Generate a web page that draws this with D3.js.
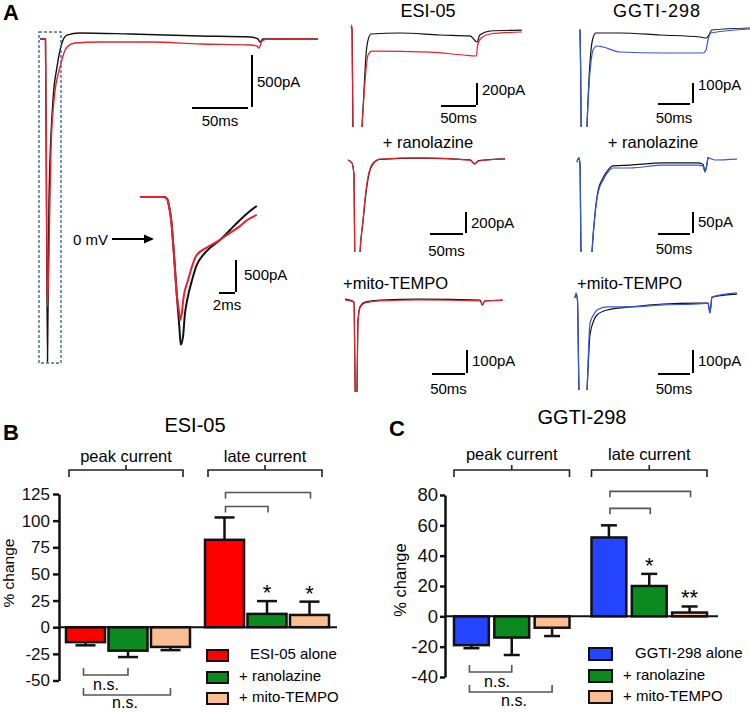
<!DOCTYPE html>
<html>
<head>
<meta charset="utf-8">
<script src="https://cdn.jsdelivr.net/npm/d3@7"></script>
<style>
body { margin: 0; background: #fff; }
svg { display: block; font-family: "Liberation Sans", Arial, sans-serif; }
</style>
</head>
<body>
<div id="chart"></div>
<script>
// ---- traces as [time ms, current pA] ----
const wholeBlack = [[0,0],[4.9,0],[5.8,-1548],[6.7,-3106],[8,-1548],[11.6,-587],[15.2,-269],[19.6,-38],[24.1,38],[35.7,58],[80.4,48],[142.9,29],[187.5,19],[194.6,0],[196.4,-29],[199,0],[218.8,0],[248.2,0]];
const wholeRed = [[0,0],[4.9,0],[5.8,-1548],[6.7,-2577],[8.9,-1548],[9.8,-1067],[12.5,-587],[17.9,-269],[24.1,-77],[31.3,-38],[53.6,-29],[98.2,-29],[142.9,-48],[187.5,-58],[193.8,-67],[195.5,-87],[198.2,-19],[202.7,0],[248.2,0]];

const zoomBlack = [[0,0],[3,0],[3.4,-30],[3.6,-125],[3.9,-360],[4.25,-905],[4.6,-1530],[4.9,-2000],[5.1,-2310],[5.4,-2155],[5.6,-1845],[5.9,-1610],[6.5,-1300],[7.1,-1060],[7.9,-905],[8.75,-795],[10,-670],[11.25,-515],[12.5,-360],[13.75,-220],[14.6,-140]];
const zoomRed = [[0,0],[3,0],[3.4,-30],[3.6,-125],[3.9,-360],[4.25,-905],[4.6,-1530],[4.9,-1810],[5.05,-1920],[5.25,-1800],[5.4,-1610],[6,-1300],[7.1,-905],[8.5,-780],[10,-670],[11.25,-560],[12.5,-455],[13.4,-360],[14.6,-280]];

const esiBlack = [[0,55],[1.4,36],[2.9,-927],[8.6,-1518],[15.7,-855],[18.6,-518],[21.4,-200],[24.3,-64],[28.6,-9],[70,0],[127,-18],[170,-27],[180,-82],[184,-18],[199,18],[244,27]];
const esiRed = [[0,73],[1.4,55],[2.9,-927],[8.6,-1518],[15.7,-855],[18.6,-564],[21.4,-336],[24.3,-200],[30,-164],[113,-173],[160,-200],[179,-209],[181,-109],[186,-45],[199,-9],[244,9]];

const esiRanoBlack = [[0,-10],[6,-38],[9.1,-152],[10.6,-1152],[15.2,-1342],[18.2,-885],[22.7,-600],[27.3,-320],[31.8,-143],[37.9,-48],[48.5,-5],[109,8],[185,-8],[192,-45],[198,-15],[238,2]];
const esiRanoRed = [[0,-10],[6,-38],[9.1,-152],[10.6,-1152],[15.2,-1342],[18.2,-885],[22.7,-581],[27.3,-295],[31.8,-124],[37.9,-38],[48.5,0],[109,10],[185,-10],[192,-48],[198,-19],[238,0]];

const esiMitoBlack = [[0,4],[7.6,0],[13.6,-9],[15.2,-348],[16.7,-565],[18.2,-400],[18.9,-217],[19.7,-87],[22.7,-30],[30.3,-9],[53,0],[114,4],[205,0],[208,-22],[212,-4],[239,0]];
const esiMitoRed = [[0,0],[7.6,-4],[13.6,-9],[15.2,-348],[16.7,-565],[18.2,-400],[18.9,-230],[19.7,-100],[22.7,-35],[30.3,-13],[53,-4],[114,0],[205,-4],[208,-22],[212,-4],[239,-2]];

const ggtiBlack = [[0,15],[0.8,-135],[3.1,-835],[7.8,-835],[10.9,-470],[14,-235],[17.2,-85],[20.3,-25],[25,0],[62.5,0],[125,-10],[187.5,-20],[197,-25],[201.6,-10],[206,15],[265.6,25]];
const ggtiBlue = [[0,20],[0.8,-135],[3.1,-835],[7.8,-835],[10.9,-470],[14,-260],[17.2,-145],[20.3,-85],[26.6,-65],[35.9,-70],[62.5,-95],[129.7,-100],[192.2,-100],[196.9,-85],[200,-35],[204.7,0],[265.6,20]];

const ggtiRanoBlack = [[0,-5],[3.1,5],[4.7,-12],[6.25,-219],[12.5,-405],[20.3,-310],[23.4,-219],[28.1,-128],[32.8,-74],[40.6,-43],[48.4,-24],[56.25,-14],[82.8,-12],[134.4,-7],[187.5,-7],[196.9,-10],[200,-26],[203,-10],[204.7,7]];
const ggtiRanoBlue = [[0,-5],[3.1,5],[4.7,-12],[6.25,-219],[12.5,-405],[20.3,-310],[23.4,-219],[28.1,-131],[32.8,-79],[40.6,-48],[48.4,-29],[56.25,-19],[82.8,-19],[134.4,-12],[187.5,-12],[196.9,-14],[200,-29],[203,-12],[204.7,5],[215.6,0],[250,2]];

const ggtiMitoBlack = [[0,0],[1.6,17],[3.9,-9],[6.25,-400],[12.5,-618],[18.75,-400],[23.4,-161],[29.7,-96],[34.4,-74],[50,-52],[86,-39],[137.5,-26],[190.6,-22],[207.8,-22],[210.9,-65],[214,4],[253,17]];
const ggtiMitoBlue = [[0,0],[1.6,22],[3.9,-9],[6.25,-400],[12.5,-618],[18.75,-400],[23.4,-109],[29.7,-70],[34.4,-52],[50,-39],[86,-39],[137.5,-30],[190.6,-26],[207.8,-22],[210.9,-65],[214,4],[253,22]];

// ---- bar charts (% change) ----
const barGroups = ['peak current', 'late current'];
const esiTreatments = ['ESI-05 alone', '+ ranolazine', '+ mito-TEMPO'];
const ggtiTreatments = ['GGTI-298 alone', '+ ranolazine', '+ mito-TEMPO'];
const esiPeak = [-14, -22, -18.5];
const esiPeakErr = [3, 6, 3];
const esiLate = [82, 12.5, 11.5];
const esiLateErr = [21, 12, 12.5];
const ggtiPeak = [-19, -14, -7.5];
const ggtiPeakErr = [2, 11.5, 5.5];
const ggtiLate = [52, 20, 2.5];
const ggtiLateErr = [8, 8, 4];
const esiStars = ['', '*', '*'];
const ggtiStars = ['', '*', '**'];
const esiTicks = [125, 100, 75, 50, 25, 0, -25, -50];
const ggtiTicks = [80, 60, 40, 20, 0, -20, -40];

const TRACE_RED = '#e3242f';
const TRACE_BLUE = '#3557d8';
const TRACE_BLACK = '#111';
const BAR_RED = '#ff0000';
const BAR_GREEN = '#0b8b1f';
const BAR_PEACH = '#fbbd92';
const BAR_BLUE = '#2444ff';

const svg = d3.select('#chart').append('svg')
    .attr('width', 750)
    .attr('height', 712);

// ================= panel A =================
const tracePanels = [
    { x0: 40, kx: 1.12, y0: 39, ky: 0.104, clipY: null, sw: 1.4,
      lines: [[wholeBlack, TRACE_BLACK], [wholeRed, TRACE_RED]],
      bar: { x: 252, y: 107, ms: 50, pA: 500, gap: 4, labY: 83, msY: 126 } },
    { x0: 140, kx: 8, y0: 197, ky: 0.064, clipY: null, sw: 2,
      lines: [[zoomBlack, TRACE_BLACK], [zoomRed, TRACE_RED]],
      bar: { x: 236, y: 292, ms: 2, pA: 500, gap: 1, labY: 276, msY: 310, labDx: 8 } },
    { x0: 351, kx: 0.7, y0: 33, ky: 0.11, clipY: 127, sw: 1.2,
      lines: [[esiBlack, TRACE_BLACK], [esiRed, TRACE_RED]],
      bar: { x: 477, y: 105, ms: 50, pA: 200, gap: 1, labY: 91, msY: 123 } },
    { x0: 348, kx: 0.66, y0: 159, ky: 0.105, clipY: 252, sw: 1.2,
      lines: [[esiRanoBlack, TRACE_BLACK], [esiRanoRed, TRACE_RED]],
      bar: { x: 466, y: 233, ms: 50, pA: 200, gap: 3, labY: 224, msY: 256 } },
    { x0: 345, kx: 0.66, y0: 300, ky: 0.23, clipY: 392, sw: 1.2,
      lines: [[esiMitoBlack, TRACE_BLACK], [esiMitoRed, TRACE_RED]],
      bar: { x: 467, y: 373, ms: 50, pA: 100, gap: 2, labY: 362, msY: 394 } },
    { x0: 580, kx: 0.64, y0: 33, ky: 0.2, clipY: 127, sw: 1.2,
      lines: [[ggtiBlack, TRACE_BLACK], [ggtiBlue, TRACE_BLUE]],
      bar: { x: 693, y: 103, ms: 50, pA: 100, gap: 3, labY: 86, msY: 123 } },
    { x0: 577, kx: 0.64, y0: 160, ky: 0.42, clipY: 252, sw: 1.2,
      lines: [[ggtiRanoBlack, TRACE_BLACK], [ggtiRanoBlue, TRACE_BLUE]],
      bar: { x: 693, y: 233, ms: 50, pA: 50, gap: 3, labY: 223, msY: 254 } },
    { x0: 575, kx: 0.64, y0: 298, ky: 0.23, clipY: 390, sw: 1.2,
      lines: [[ggtiMitoBlack, TRACE_BLACK], [ggtiMitoBlue, TRACE_BLUE]],
      bar: { x: 693, y: 373, ms: 50, pA: 100, gap: 3, labY: 362, msY: 394 } },
];

const defs = svg.append('defs');

tracePanels.forEach((p, i) => {
    const x = d3.scaleLinear().domain([0, 100]).range([p.x0, p.x0 + 100 * p.kx]);
    const y = d3.scaleLinear().domain([0, -1000]).range([p.y0, p.y0 + 1000 * p.ky]);
    const line = d3.line()
        .x(d => x(d[0]))
        .y(d => y(d[1]))
        .curve(d3.curveMonotoneX);

    const g = svg.append('g');
    if (p.clipY) {
        defs.append('clipPath').attr('id', 'clip' + i)
            .append('rect')
            .attr('x', p.x0 - 10).attr('y', 0)
            .attr('width', 300).attr('height', p.clipY);
        g.attr('clip-path', `url(#clip${i})`);
    }
    p.lines.forEach(([pts, col]) => {
        g.append('path')
            .attr('d', line(pts))
            .attr('fill', 'none')
            .attr('stroke', col)
            .attr('stroke-width', p.sw)
            .attr('stroke-linejoin', 'round');
    });

    // scale bars drawn from the same scales
    const b = p.bar;
    const barH = y(-b.pA) - y(0);
    const barW = x(b.ms) - x(0);
    const sb = svg.append('g').attr('stroke', '#000').attr('stroke-width', 2);
    sb.append('line').attr('x1', b.x).attr('x2', b.x).attr('y1', b.y - barH).attr('y2', b.y);
    sb.append('line')
        .attr('x1', b.x - b.gap - barW).attr('x2', b.x - b.gap)
        .attr('y1', b.y + 1).attr('y2', b.y + 1);
    svg.append('text')
        .attr('x', b.x + (b.labDx || 5)).attr('y', b.labY)
        .attr('dominant-baseline', 'middle')
        .attr('font-size', 15)
        .text(b.pA + 'pA');
    svg.append('text')
        .attr('x', b.x - b.gap - barW / 2).attr('y', b.msY)
        .attr('text-anchor', 'middle')
        .attr('font-size', 15)
        .text(b.ms + 'ms');
});

// dashed box marking the zoomed region
svg.append('rect')
    .attr('x', 39).attr('y', 32).attr('width', 22).attr('height', 331)
    .attr('fill', 'none')
    .attr('stroke', '#3d6b9c')
    .attr('stroke-width', 1.4)
    .attr('stroke-dasharray', '3,2');

// 0 mV arrow
svg.append('text').attr('x', 73).attr('y', 245).attr('font-size', 15).text('0 mV');
svg.append('line').attr('x1', 112).attr('x2', 146).attr('y1', 239).attr('y2', 239)
    .attr('stroke', '#000').attr('stroke-width', 2);
svg.append('path').attr('d', 'M154,239 L144,234.5 L144,243.5 Z').attr('fill', '#000');

svg.append('text').attr('x', 3).attr('y', 20).attr('font-size', 22).attr('font-weight', 'bold').text('A');
svg.append('text').attr('x', 428).attr('y', 17).attr('text-anchor', 'middle').attr('font-size', 18).text('ESI-05');
svg.append('text').attr('x', 657).attr('y', 17).attr('text-anchor', 'middle').attr('font-size', 18)
    .attr('letter-spacing', 1).text('GGTI-298');
svg.append('text').attr('x', 428).attr('y', 148).attr('text-anchor', 'middle').attr('font-size', 16.5).text('+ ranolazine');
svg.append('text').attr('x', 653).attr('y', 148).attr('text-anchor', 'middle').attr('font-size', 16.5).text('+ ranolazine');
svg.append('text').attr('x', 343).attr('y', 289).attr('font-size', 16.5).text('+mito-TEMPO');
svg.append('text').attr('x', 577).attr('y', 289).attr('font-size', 16.5).text('+mito-TEMPO');

// ================= panels B and C =================
const barPanels = [
    { letter: 'B', title: 'ESI-05', treat: esiTreatments,
      peak: esiPeak, peakErr: esiPeakErr, late: esiLate, lateErr: esiLateErr,
      stars: esiStars, ticks: esiTicks, colors: [BAR_RED, BAR_GREEN, BAR_PEACH],
      L: { letterX: 3, letterY: 440, titleX: 195, titleY: 432, groupY: 462,
           axisX: 59, yDomain: [-50, 125], yRange: [680.5, 494], xRange: [66, 329],
           padGroup: 0.108, padBar: 0.082, zeroEnd: 337, tickFont: 17, tickSize: 6, tickPad: 3,
           ylabX: 14, ylabY: 573, ylabFont: 15.5, bracketIn: [3, 7], capW: 20, starDy: -1,
           sig: [11, 25], ns: [675, 695], nsText: [[106, 690], [125, 708]],
           legX: 207, legW: 21, legH: 11, legY: [650, 672, 693], legText: [250, 239, 239] } },
    { letter: 'C', title: 'GGTI-298', treat: ggtiTreatments,
      peak: ggtiPeak, peakErr: ggtiPeakErr, late: ggtiLate, lateErr: ggtiLateErr,
      stars: ggtiStars, ticks: ggtiTicks, colors: [BAR_BLUE, BAR_GREEN, BAR_PEACH],
      L: { letterX: 389, letterY: 436, titleX: 582, titleY: 424, groupY: 460,
           axisX: 445, yDomain: [-40, 80], yRange: [677, 495], xRange: [454, 707],
           padGroup: 0.16, padBar: 0.136, zeroEnd: 718, tickFont: 18.5, tickSize: 5, tickPad: 2,
           ylabX: 406, ylabY: 580, ylabFont: 16.5, bracketIn: [0, 0], capW: 16, starDy: -1,
           sig: [17, 34], ns: [672, 692], nsText: [[497, 687], [514, 706]],
           legX: 589, legW: 23, legH: 12, legY: [648, 670, 691], legText: [635, 623, 623] } },
];

barPanels.forEach(p => {
    const L = p.L;
    const g = svg.append('g');
    const y = d3.scaleLinear().domain(L.yDomain).range(L.yRange);
    const x0 = d3.scaleBand().domain(barGroups).range(L.xRange).paddingInner(L.padGroup).paddingOuter(0);
    const x1 = d3.scaleBand().domain(p.treat).range([0, x0.bandwidth()]).paddingInner(L.padBar).paddingOuter(0);

    const rows = [];
    barGroups.forEach((grp, gi) => {
        const vals = gi === 0 ? p.peak : p.late;
        const errs = gi === 0 ? p.peakErr : p.lateErr;
        p.treat.forEach((t, ti) => {
            rows.push({ grp, t, ti, gi, v: vals[ti], e: errs[ti] });
        });
    });
    const cx = d => x0(d.grp) + x1(d.t) + x1.bandwidth() / 2;
    const tip = d => d.v >= 0 ? d.v + d.e : d.v - d.e;

    // error bars (behind bars)
    g.selectAll('.err').data(rows).join('g').attr('class', 'err')
        .attr('stroke', '#111').attr('stroke-width', 2.5)
        .each(function (d) {
            const s = d3.select(this);
            s.append('line').attr('x1', cx(d)).attr('x2', cx(d)).attr('y1', y(d.v)).attr('y2', y(tip(d)));
            s.append('line').attr('x1', cx(d) - L.capW / 2).attr('x2', cx(d) + L.capW / 2)
                .attr('y1', y(tip(d))).attr('y2', y(tip(d)));
        });

    g.selectAll('.bar').data(rows).join('rect').attr('class', 'bar')
        .attr('x', d => x0(d.grp) + x1(d.t))
        .attr('width', x1.bandwidth())
        .attr('y', d => y(Math.max(0, d.v)))
        .attr('height', d => Math.abs(y(d.v) - y(0)))
        .attr('fill', d => p.colors[d.ti])
        .attr('stroke', '#111')
        .attr('stroke-width', 2.5);

    // zero line
    g.append('line').attr('x1', L.axisX).attr('x2', L.zeroEnd).attr('y1', y(0)).attr('y2', y(0))
        .attr('stroke', '#111').attr('stroke-width', 2);

    // y axis (plain hyphen for negatives, as in the figure)
    const ax = g.append('g')
        .attr('transform', `translate(${L.axisX},0)`)
        .call(d3.axisLeft(y).tickValues(p.ticks).tickFormat(d => String(d))
            .tickSize(L.tickSize).tickSizeOuter(0).tickPadding(L.tickPad));
    ax.select('.domain').attr('stroke', '#111').attr('stroke-width', 2.5);
    ax.selectAll('.tick line').attr('stroke', '#111').attr('stroke-width', 2.5);
    ax.selectAll('.tick text').attr('font-size', L.tickFont).attr('font-family', '"Liberation Sans", Arial, sans-serif').attr('fill', '#111');

    g.append('text')
        .attr('transform', `translate(${L.ylabX},${L.ylabY}) rotate(-90)`)
        .attr('text-anchor', 'middle')
        .attr('font-size', L.ylabFont)
        .text('% change');

    // stars
    g.selectAll('.star').data(rows.filter(d => d.gi === 1)).join('text').attr('class', 'star')
        .attr('x', cx).attr('y', d => y(tip(d)) + L.starDy)
        .attr('text-anchor', 'middle').attr('font-size', 22)
        .text(d => p.stars[d.ti]);

    // group brackets
    barGroups.forEach(grp => {
        const a = x0(grp) + L.bracketIn[0];
        const b = x0(grp) + x0.bandwidth() - L.bracketIn[1];
        const m = (a + b) / 2;
        g.append('path')
            .attr('d', `M${a},477 V470 H${b} V477 M${m},470 V465`)
            .attr('fill', 'none').attr('stroke', '#222').attr('stroke-width', 1.6);
        g.append('text').attr('x', m).attr('y', L.groupY).attr('text-anchor', 'middle')
            .attr('font-size', 16.5).text(grp);
    });

    // significance brackets above late bars
    const late = rows.filter(d => d.gi === 1);
    const top0 = y(tip(late[0]));
    [1, 2].forEach((k, i) => {
        const ty = top0 - L.sig[i];
        g.append('path')
            .attr('d', `M${cx(late[0]) + 1},${ty + 6} V${ty} H${cx(late[k]) + 1} V${ty + 6}`)
            .attr('fill', 'none').attr('stroke', '#555').attr('stroke-width', 1.6);
    });

    // n.s. brackets below peak bars
    const peak = rows.filter(d => d.gi === 0);
    [1, 2].forEach((k, i) => {
        const by = L.ns[i];
        g.append('path')
            .attr('d', `M${cx(peak[0]) - 2},${by - 7} V${by} H${cx(peak[k])} V${by - 7}`)
            .attr('fill', 'none').attr('stroke', '#555').attr('stroke-width', 1.6);
        g.append('text').attr('x', L.nsText[i][0]).attr('y', L.nsText[i][1])
            .attr('text-anchor', 'middle').attr('font-size', 16).text('n.s.');
    });

    // legend
    p.treat.forEach((t, i) => {
        g.append('rect').attr('x', L.legX).attr('y', L.legY[i]).attr('width', L.legW).attr('height', L.legH)
            .attr('fill', p.colors[i]).attr('stroke', '#111').attr('stroke-width', 2);
        g.append('text').attr('x', L.legText[i]).attr('y', L.legY[i] + L.legH / 2)
            .attr('dominant-baseline', 'middle').attr('font-size', 15).text(t);
    });

    svg.append('text').attr('x', L.letterX).attr('y', L.letterY).attr('font-size', 22)
        .attr('font-weight', 'bold').text(p.letter);
    svg.append('text').attr('x', L.titleX).attr('y', L.titleY).attr('text-anchor', 'middle')
        .attr('font-size', 20).text(p.title);
});
</script>
</body>
</html>
